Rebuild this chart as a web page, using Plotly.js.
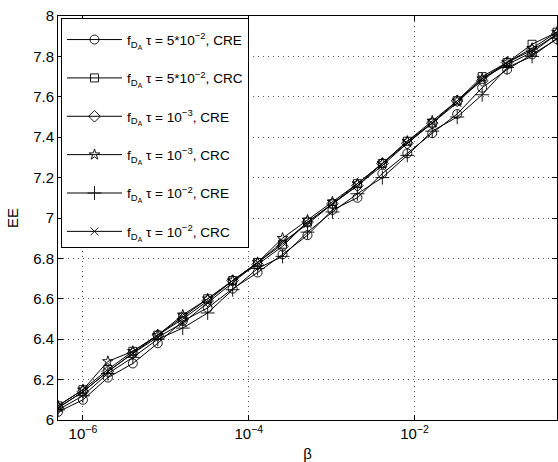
<!DOCTYPE html>
<html>
<head>
<meta charset="utf-8">
<script src="https://cdn.plot.ly/plotly-3.0.1.min.js"></script>
<style>html,body{margin:0;padding:0;background:#fff;}#chart{width:558px;height:462px;}</style>
</head>
<body>
<div id="chart"></div>
<script>
var beta = [5e-7, 1e-6, 2e-6, 4e-6, 8e-6, 1.6e-5, 3.2e-5, 6.4e-5, 1.28e-4, 2.56e-4, 5.12e-4,
            1.024e-3, 2.048e-3, 4.096e-3, 8.192e-3, 1.6384e-2, 3.2768e-2, 6.5536e-2, 0.131072, 0.262144, 0.524288];

var eeCRE_5e2 = [6.04, 6.10, 6.21, 6.28, 6.38, 6.49, 6.555, 6.65, 6.73, 6.82, 6.915, 7.04, 7.10, 7.22, 7.32, 7.42, 7.515, 7.645, 7.735, 7.81, 7.885];
var eeCRC_5e2 = [6.07, 6.15, 6.25, 6.34, 6.42, 6.51, 6.60, 6.69, 6.78, 6.87, 6.98, 7.07, 7.17, 7.27, 7.38, 7.47, 7.58, 7.70, 7.77, 7.86, 7.92];
var eeCRE_1e3 = [6.06, 6.14, 6.24, 6.33, 6.42, 6.50, 6.59, 6.69, 6.77, 6.86, 6.98, 7.07, 7.16, 7.27, 7.37, 7.47, 7.58, 7.68, 7.77, 7.83, 7.91];
var eeCRC_1e3 = [6.07, 6.15, 6.29, 6.34, 6.42, 6.52, 6.60, 6.69, 6.78, 6.90, 6.99, 7.08, 7.17, 7.27, 7.38, 7.48, 7.58, 7.69, 7.77, 7.84, 7.92];
var eeCRE_1e2 = [6.05, 6.12, 6.23, 6.31, 6.40, 6.455, 6.53, 6.645, 6.75, 6.81, 6.93, 7.03, 7.12, 7.20, 7.31, 7.43, 7.50, 7.61, 7.745, 7.80, 7.89];
var eeCRC_1e2 = [6.06, 6.14, 6.24, 6.33, 6.41, 6.48, 6.58, 6.68, 6.78, 6.88, 6.97, 7.07, 7.16, 7.26, 7.37, 7.47, 7.57, 7.69, 7.76, 7.82, 7.91];

var seriesNames = [
  'f<sub>D<sub>A</sub></sub> τ = 5*10<sup>−2</sup>, CRE',
  'f<sub>D<sub>A</sub></sub> τ = 5*10<sup>−2</sup>, CRC',
  'f<sub>D<sub>A</sub></sub> τ = 10<sup>−3</sup>, CRE',
  'f<sub>D<sub>A</sub></sub> τ = 10<sup>−3</sup>, CRC',
  'f<sub>D<sub>A</sub></sub> τ = 10<sup>−2</sup>, CRE',
  'f<sub>D<sub>A</sub></sub> τ = 10<sup>−2</sup>, CRC'
];
var seriesData = [eeCRE_5e2, eeCRC_5e2, eeCRE_1e3, eeCRC_1e3, eeCRE_1e2, eeCRC_1e2];
var symbols = ['circle-open', 'square-open', 'diamond-open', 'star-open', 'cross-thin-open', 'x-thin-open'];
var sizes = [9, 8, 9, 8, 10, 8];

var xTickVals = [1e-6, 1e-4, 1e-2];
var xTickText = ['10<sup>−6</sup>', '10<sup>−4</sup>', '10<sup>−2</sup>'];
var yTickVals = [6, 6.2, 6.4, 6.6, 6.8, 7, 7.2, 7.4, 7.6, 7.8, 8];
var yTickText = ['6', '6.2', '6.4', '6.6', '6.8', '7', '7.2', '7.4', '7.6', '7.8', '8'];

var traces = seriesData.map(function (d, i) {
  var last = (i === seriesData.length - 1);
  return {
    x: beta, y: d, name: seriesNames[i] + (last ? '' : '<br>\u00a0'), type: 'scatter', mode: 'lines+markers',
    line: {color: '#000', width: 1},
    marker: {symbol: symbols[i], size: sizes[i], color: '#000', line: {color: '#000', width: 0.9}}
  };
});

var layout = {
  width: 558, height: 462,
  margin: {l: 58, r: 1, t: 16, b: 42},
  paper_bgcolor: '#fff', plot_bgcolor: '#fff',
  font: {family: 'Liberation Sans, Arial, sans-serif', size: 15, color: '#000'},
  showlegend: true,
  legend: {
    x: 0.006, y: 0.995, xanchor: 'left', yanchor: 'top',
    bgcolor: '#fff', bordercolor: '#000', borderwidth: 1,
    font: {size: 13.6}, itemwidth: 55, tracegroupgap: 0, valign: 'top',
    title: {text: '\u00a0', font: {size: 4}}
  },
  xaxis: {
    type: 'log', range: [Math.log10(5e-7), Math.log10(0.524288)],
    tickvals: xTickVals, ticktext: xTickText,
    ticks: 'inside', ticklen: 5, tickcolor: '#000',
    showline: true, linecolor: '#000', linewidth: 1, mirror: 'ticks',
    showgrid: true, gridcolor: '#555', griddash: '1px,4px', gridwidth: 1,
    zeroline: false,
    title: {text: 'β', font: {size: 15}, standoff: 7}
  },
  yaxis: {
    range: [6, 8], tickvals: yTickVals, ticktext: yTickText,
    ticks: 'inside', ticklen: 5, tickcolor: '#000',
    showline: true, linecolor: '#000', linewidth: 1, mirror: 'ticks',
    showgrid: true, gridcolor: '#555', griddash: '1px,4px', gridwidth: 1,
    zeroline: false,
    title: {text: 'EE', font: {size: 15}, standoff: 10}
  }
};

Plotly.newPlot('chart', traces, layout, {displayModeBar: false, staticPlot: true});
</script>
</body>
</html>
